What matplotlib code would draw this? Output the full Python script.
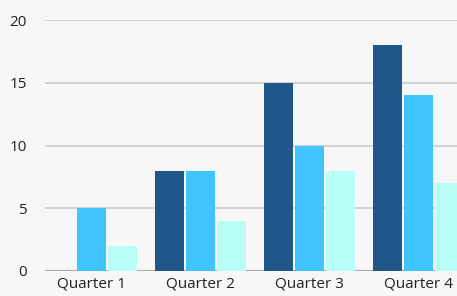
import numpy as np
import matplotlib.pyplot as plt

plt.rcParams['font.family'] = ['Open Sans', 'DejaVu Sans']

quarters = ['Quarter 1', 'Quarter 2', 'Quarter 3', 'Quarter 4']
series_a = [0, 8, 15, 18]
series_b = [5, 8, 10, 14]
series_c = [2, 4, 8, 7]
colors = ['#1f5788', '#40c4ff', '#b9fff8']

fig = plt.figure(figsize=(4.57, 2.96), dpi=100)
fig.patch.set_facecolor('#f7f7f7')
ax = fig.add_axes([45/457, 25/296, 1 - 45/457, 251/296])
ax.set_facecolor('#f7f7f7')

x = np.arange(len(quarters))
w = 0.266
off = 0.284
for i, (vals, c) in enumerate(zip([series_a, series_b, series_c], colors)):
    ax.bar(x + (i - 1) * off, vals, width=w, color=c, zorder=3)

ax.set_xlim(-0.427, 3.353)
ax.set_ylim(0, 20)
ax.set_yticks([0, 5, 10, 15, 20])
ax.set_xticks(x)
ax.set_xticklabels(quarters)
ax.yaxis.grid(True, color='#cccccc', linewidth=1.2, zorder=0)
ax.axhline(0, color='#aaaaaa', linewidth=1.5, zorder=2)
for s in ax.spines.values():
    s.set_visible(False)
ax.tick_params(length=0, labelsize=11, colors='#222222')
ax.tick_params(axis='y', pad=13)
ax.tick_params(axis='x', pad=4)

fig.savefig('out.png', dpi=100, facecolor=fig.get_facecolor())
